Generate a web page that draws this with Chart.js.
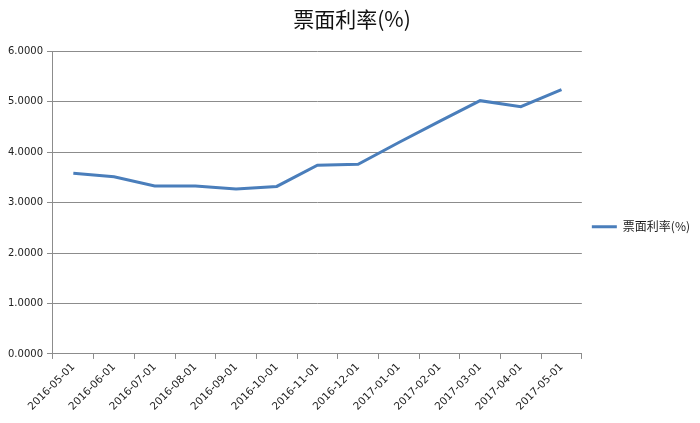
<!DOCTYPE html>
<html>
<head>
<meta charset="utf-8">
<script src="https://cdn.jsdelivr.net/npm/chart.js@4/dist/chart.umd.min.js"></script>
<style>
  html, body { margin: 0; padding: 0; background: #fff; }
  #wrap { width: 700px; height: 423px; }
</style>
</head>
<body>
<div id="wrap"><canvas id="rateChart" width="700" height="423"></canvas></div>
<script>
// Data
const dates = [
  "2016-05-01", "2016-06-01", "2016-07-01", "2016-08-01", "2016-09-01",
  "2016-10-01", "2016-11-01", "2016-12-01", "2017-01-01", "2017-02-01",
  "2017-03-01", "2017-04-01", "2017-05-01"
];
const couponRate = [3.58, 3.51, 3.33, 3.33, 3.27, 3.32, 3.74, 3.76, 4.19, 4.61, 5.02, 4.90, 5.24];
const seriesName = "票面利率(%)";
const yTicks = [0, 1, 2, 3, 4, 5, 6];

const lineColor = "#4a7ebb";
const gridColor = "#8c8c8c";
const textFont = "'DejaVu Sans', 'Noto Sans CJK SC', sans-serif";
const cjkFont = "'Noto Sans CJK SC', 'DejaVu Sans', sans-serif";

const canvas = document.getElementById("rateChart");

new Chart(canvas, {
  type: "line",
  data: {
    labels: dates,
    datasets: [{
      label: seriesName,
      data: couponRate,
      borderColor: lineColor,
      backgroundColor: lineColor,
      borderWidth: 3,
      pointRadius: 0,
      tension: 0
    }]
  },
  options: {
    responsive: false,
    animation: false,
    layout: { padding: { left: 4, right: 0, top: 4, bottom: 8 } },
    plugins: {
      title: {
        display: true,
        text: seriesName,
        color: "#111",
        font: { family: cjkFont, size: 21, weight: "normal" },
        padding: { top: 2, bottom: 20 }
      },
      legend: {
        position: "right",
        // empty title only pushes the entry down a little, like the reference
        title: { display: true, text: " ", padding: 10, font: { size: 12 } },
        labels: {
          usePointStyle: true,
          pointStyle: "line",
          pointStyleWidth: 25,
          color: "#1a1a1a",
          font: { family: cjkFont, size: 12 },
          padding: 10
        }
      },
      tooltip: { enabled: false }
    },
    scales: {
      x: {
        offset: true,
        grid: {
          display: true,
          offset: true,
          drawOnChartArea: false,
          drawTicks: true,
          tickLength: 5,
          color: gridColor
        },
        border: { color: gridColor, width: 1 },
        ticks: {
          color: "#222",
          font: { family: textFont, size: 10.5 },
          minRotation: 45,
          maxRotation: 45,
          autoSkip: false,
          padding: 2
        }
      },
      y: {
        min: 0,
        max: 6,
        afterBuildTicks: axis => {
          axis.ticks = yTicks.map(v => ({ value: v }));
        },
        grid: {
          color: gridColor,
          tickLength: 6,
          lineWidth: 1
        },
        border: { color: gridColor, width: 1 },
        ticks: {
          color: "#222",
          font: { family: textFont, size: 10 },
          padding: 4,
          callback: v => Number(v).toFixed(4)
        }
      }
    }
  }
});
</script>
</body>
</html>
